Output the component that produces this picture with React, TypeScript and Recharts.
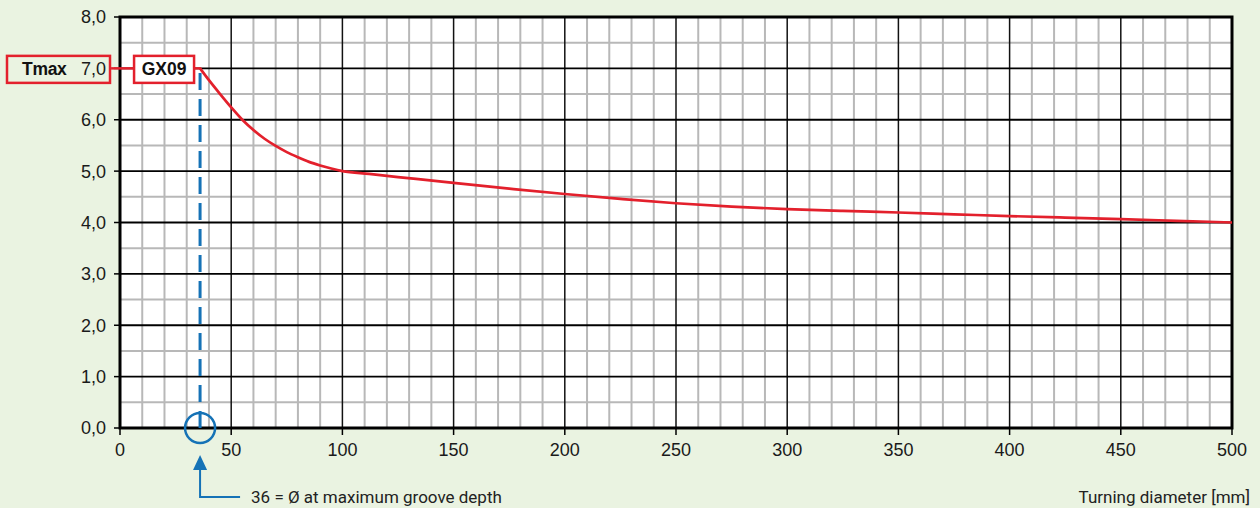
import React from 'react';
import { LineChart, Line, XAxis, YAxis, ReferenceLine, ReferenceArea, ReferenceDot } from 'recharts';

const diameters = [36, 40, 45, 50, 55, 60, 65, 70, 75, 80, 85, 90, 95, 100, 112, 125, 150, 175, 200, 225, 250, 275, 300, 325, 350, 375, 400, 425, 450, 475, 500];
const tmaxValues = [7.0, 6.77, 6.5, 6.24, 6.0, 5.8, 5.63, 5.49, 5.37, 5.27, 5.18, 5.11, 5.05, 5.0, 4.945, 4.885, 4.77, 4.66, 4.555, 4.46, 4.375, 4.31, 4.26, 4.225, 4.195, 4.16, 4.125, 4.095, 4.065, 4.033, 4.0];
const xTicks = [0, 50, 100, 150, 200, 250, 300, 350, 400, 450, 500];
const yTicks = [0, 1, 2, 3, 4, 5, 6, 7, 8];
const xMinor = [10, 20, 30, 40, 60, 70, 80, 90, 110, 120, 130, 140, 160, 170, 180, 190, 210, 220, 230, 240, 260, 270, 280, 290, 310, 320, 330, 340, 360, 370, 380, 390, 410, 420, 430, 440, 460, 470, 480, 490];
const yMinor = [0.5, 1.5, 2.5, 3.5, 4.5, 5.5, 6.5, 7.5];
const xMajorInner = [50, 100, 150, 200, 250, 300, 350, 400, 450];
const yMajorInner = [1, 2, 3, 4, 5, 6, 7];
const grooveDiameter = 36;
const grooveTmax = 7.0;
const productName = 'GX09';
const tmaxLabel = 'Tmax';
const xAxisTitle = 'Turning diameter [mm]';
const grooveNote = '36 = Ø at maximum groove depth';

const data = diameters.map((d, i) => ({ d, t: tmaxValues[i] }));

const RED = '#e3202c';
const BLUE = '#1572b6';
const BG = '#eaf3e1';
const TICK_FONT = '"Liberation Sans", Arial, sans-serif';
const NOTE_FONT = 'Roboto, "Noto Sans", sans-serif';

const fmt = (v: number) => v.toFixed(1).replace('.', ',');

const YTick = (props: any) => {
  const { x, y, payload } = props;
  const v = payload.value;
  return (
    <g>
      {v === grooveTmax && (
        <g>
          <rect x={x - 99} y={y - 12.5} width={103} height={27} fill="none" stroke={RED} strokeWidth={2.5} />
          <text x={x - 84} y={y} dy="0.355em" fontSize={17.5} fontWeight="bold" fill="#111" fontFamily={TICK_FONT} letterSpacing={-0.3}>{tmaxLabel}</text>
        </g>
      )}
      <text x={x} y={y} dy="0.355em" textAnchor="end" fontSize={18} fill="#1a1a1a" fontFamily={TICK_FONT}>{fmt(v)}</text>
    </g>
  );
};

const GxShape = (props: any) => {
  const { cx, cy } = props;
  if (cx == null || cy == null) return null;
  return (
    <g>
      <line x1={cx - 89} y1={cy} x2={cx - 66} y2={cy} stroke={RED} strokeWidth={2.5} />
      <line x1={cx - 6} y1={cy} x2={cx + 1} y2={cy} stroke={RED} strokeWidth={2.5} />
      <rect x={cx - 66} y={cy - 12.5} width={60} height={27} fill="#fff" stroke={RED} strokeWidth={2.5} />
      <text x={cx - 36} y={cy} dy="0.355em" textAnchor="middle" fontSize={17.5} fontWeight="bold" fill="#111" fontFamily={TICK_FONT}>{productName}</text>
    </g>
  );
};

const CircleShape = (props: any) => {
  const { cx, cy } = props;
  if (cx == null || cy == null) return null;
  return (
    <g>
      <circle cx={cx} cy={cy} r={15} fill="none" stroke={BLUE} strokeWidth={2.5} />
      <path d={`M${cx - 7},${cy + 42} L${cx},${cy + 27} L${cx + 7},${cy + 42} Z`} fill={BLUE} />
      <polyline points={`${cx},${cy + 40} ${cx},${cy + 69} ${cx + 40},${cy + 69}`} fill="none" stroke={BLUE} strokeWidth={2} />
      <text x={cx + 51} y={cy + 69} dy="0.355em" fontSize={17} fill="#222" fontFamily={NOTE_FONT}>{grooveNote}</text>
    </g>
  );
};

const XTitle = (props: any) => {
  const vb = props.viewBox || {};
  return (
    <text x={(vb.x || 0) + (vb.width || 0) + 18} y={(vb.y || 0) + 69} dy="0.355em" textAnchor="end" fontSize={17} fill="#222" fontFamily={NOTE_FONT}>
      {xAxisTitle}
    </text>
  );
};

export default function App() {
  return (
    <div style={{ position: 'absolute', left: 0, top: 0, width: 1260, height: 508, background: BG }}>
      <LineChart width={1260} height={508} data={data} margin={{ top: 17, right: 28, left: 0, bottom: 0 }}>
        <XAxis
          dataKey="d"
          type="number"
          domain={[0, 500]}
          ticks={xTicks}
          allowDataOverflow
          axisLine={false}
          tickSize={7}
          tickMargin={8}
          tickLine={{ stroke: '#000', strokeWidth: 1.5 }}
          tick={{ fontSize: 18, fill: '#1a1a1a', fontFamily: TICK_FONT }}
          height={80}
          label={<XTitle />}
        />
        <YAxis
          type="number"
          domain={[0, 8]}
          ticks={yTicks}
          allowDataOverflow
          axisLine={false}
          tickSize={6}
          tickMargin={8}
          tickLine={{ stroke: '#000', strokeWidth: 1.5 }}
          tick={<YTick />}
          width={120}
        />
        <ReferenceArea x1={0} x2={500} y1={0} y2={8} fill="#ffffff" fillOpacity={1} stroke="none" zIndex={-300} />
        {xMinor.map((v) => (
          <ReferenceLine key={'xm' + v} x={v} stroke="#b8b8b8" strokeWidth={2} zIndex={-250} />
        ))}
        {yMinor.map((v) => (
          <ReferenceLine key={'ym' + v} y={v} stroke="#b8b8b8" strokeWidth={2} zIndex={-250} />
        ))}
        {xMajorInner.map((v) => (
          <ReferenceLine key={'xM' + v} x={v} stroke="#111" strokeWidth={1.5} zIndex={-200} />
        ))}
        {yMajorInner.map((v) => (
          <ReferenceLine key={'yM' + v} y={v} stroke="#000" strokeWidth={1.8} zIndex={-200} />
        ))}
        <ReferenceArea x1={0} x2={500} y1={0} y2={8} fill="none" stroke="#000" strokeWidth={3} zIndex={-150} />
        <ReferenceLine
          segment={[{ x: grooveDiameter, y: 0 }, { x: grooveDiameter, y: grooveTmax }]}
          stroke={BLUE}
          strokeWidth={3}
          strokeDasharray="17 9"
          zIndex={-100}
        />
        <Line
          type="monotone"
          dataKey="t"
          stroke={RED}
          strokeWidth={2.7}
          dot={false}
          isAnimationActive={false}
        />
        <ReferenceDot x={grooveDiameter} y={grooveTmax} ifOverflow="visible" shape={<GxShape />} zIndex={2500} />
        <ReferenceDot x={grooveDiameter} y={0} ifOverflow="visible" shape={<CircleShape />} zIndex={2500} />
      </LineChart>
    </div>
  );
}
